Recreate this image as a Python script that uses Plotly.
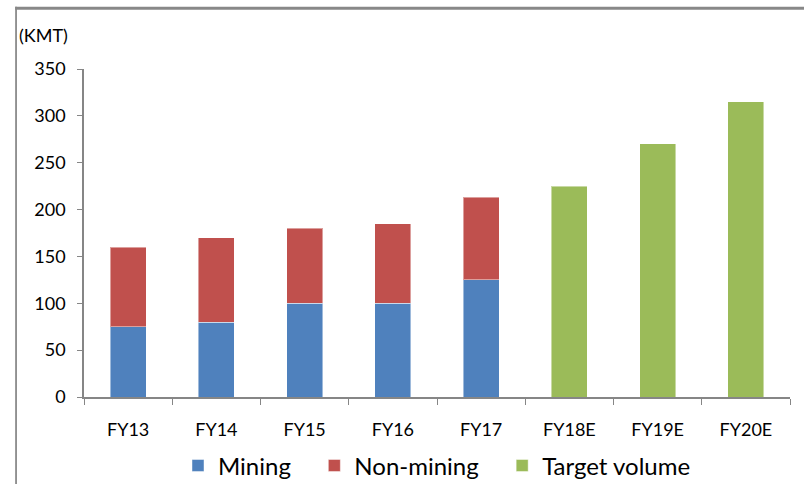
import plotly.graph_objects as go

categories = ["FY13", "FY14", "FY15", "FY16", "FY17", "FY18E", "FY19E", "FY20E"]
mining = [75, 80, 100, 100, 125, None, None, None]
non_mining = [85, 90, 80, 85, 88, None, None, None]
target_volume = [None, None, None, None, None, 225, 270, 315]
y_ticks = [0, 50, 100, 150, 200, 250, 300, 350]

FONT = "Lato"
line_style = dict(color="rgba(255,255,255,0.45)", width=1)
pad = "\u00a0\u00a0\u00a0"

fig = go.Figure()
fig.add_trace(go.Bar(x=categories, y=mining, name="Mining" + pad,
                     marker=dict(color="#4F81BD", line=line_style)))
fig.add_trace(go.Bar(x=categories, y=non_mining, name="Non-mining" + pad,
                     marker=dict(color="#C0504D", line=line_style)))
fig.add_trace(go.Bar(x=categories, y=target_volume, name="Target volume",
                     marker=dict(color="#9BBB59", line=line_style)))

fig.update_layout(
    width=804, height=484,
    margin=dict(l=84, r=14, t=69, b=87, autoexpand=False),
    paper_bgcolor="white", plot_bgcolor="white",
    barmode="stack", bargap=0.59,
    font=dict(family=FONT, color="#000000"),
    showlegend=True,
    legend=dict(orientation="h", x=0.5, xanchor="center", y=-0.21, yanchor="middle",
                font=dict(size=24, family=FONT), itemwidth=30, traceorder="normal"),
    xaxis=dict(showline=True, linecolor="#868686", linewidth=1.5,
               ticks="outside", tickson="boundaries", ticklen=6, tickcolor="#868686",
               tickfont=dict(size=18), ticklabelstandoff=16, showgrid=False),
    yaxis=dict(range=[0, 350], tickvals=y_ticks, showline=True, linecolor="#868686",
               linewidth=1.5, ticks="outside", ticklen=5, tickcolor="#868686",
               tickfont=dict(size=18), showgrid=False, zeroline=False,
               ticklabelstandoff=8),
    annotations=[dict(text="(KMT)", xref="paper", yref="paper", x=-0.095, y=1.104,
                      xanchor="left", yanchor="middle", showarrow=False,
                      font=dict(size=18, family=FONT))],
    shapes=[
        dict(type="rect", xref="paper", yref="paper", x0=-0.0975, x1=1.03, y0=1.181, y1=1.19,
             fillcolor="#888888", line=dict(width=0), layer="above"),
        dict(type="rect", xref="paper", yref="paper", x0=-0.0975, x1=-0.095, y0=1.19, y1=-0.27,
             fillcolor="#888888", line=dict(width=0), layer="above"),
    ],
)

fig.write_html("out.html")
